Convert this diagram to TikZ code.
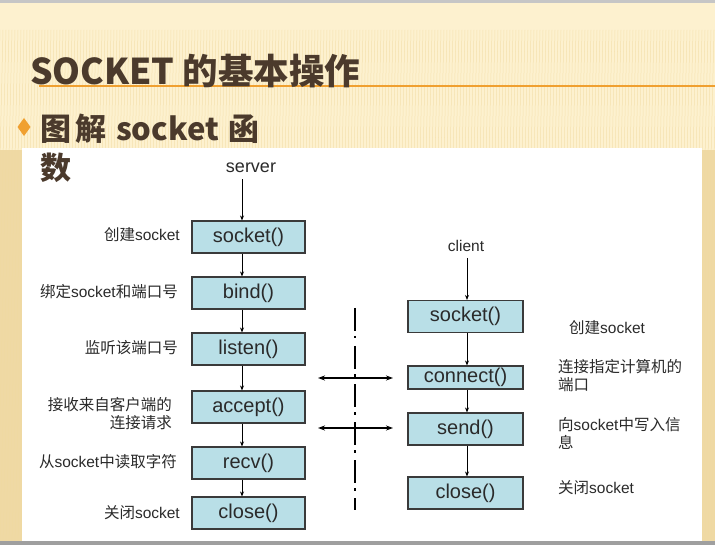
\documentclass[tikz,border=0pt]{standalone}
\usepackage{fontspec}
\setmainfont{Liberation Sans}
\newfontfamily\cjk{Noto Sans CJK SC}
\usetikzlibrary{arrows.meta,calc}
\definecolor{cream}{HTML}{FDF1CF}
\definecolor{stripe}{HTML}{F1DAA0}
\definecolor{gold}{HTML}{EFD9A4}
\definecolor{titlebrown}{HTML}{4B3A2C}
\definecolor{orangeline}{HTML}{F0A030}
\definecolor{boxfill}{HTML}{B9DFE7}
\definecolor{boxline}{HTML}{3A3A3A}
\definecolor{txt}{HTML}{2A2A2A}
\newcommand\zh[1]{{\cjk #1}}
\begin{document}
\begin{tikzpicture}[x=1pt,y=-1pt,
  fn/.style={draw=boxline, line width=1.1pt, fill=boxfill, minimum width=113pt,
    minimum height=32pt, inner sep=0pt, font=\fontsize{20}{24}\selectfont, text=txt},
  arr/.style={-{Stealth[length=5pt,width=4pt]}, line width=0.8pt},
  darr/.style={{Stealth[length=7pt,width=5pt]}-{Stealth[length=7pt,width=5pt]}, line width=1.2pt},
  lbl/.style={font=\fontsize{15.5}{18}\selectfont, text=txt, inner sep=0pt},
  head/.style={font=\fontsize{18}{22}\selectfont, text=txt, inner sep=0pt},
]
\useasboundingbox (0,0) rectangle (715,545);
% slide background
\fill[cream] (0,0) rectangle (715,545);
\fill[gold] (0,150) rectangle (22,545);
\fill[gold] (702,150) rectangle (715,545);
\foreach \i in {0,3,...,740} \draw[stripe, line width=0.5pt, opacity=0.7] (\i,30) -- (\i-12,545);
\draw[gray!45, line width=3pt] (0,1.5) -- (715,1.5);
\fill[gray!75] (0,541) rectangle (715,545);
% title
\draw[orangeline, line width=1.2pt] (39,86) -- (715,86);
\node[anchor=base west, text=titlebrown, font=\cjk\bfseries\fontsize{35.5}{40}\selectfont, inner sep=0pt] (title) at (30,85) {SOCKET 的基本操作};
% white panel
\fill[white] (22,148) rectangle (702,541);
% bullet
\fill[orangeline] (24,118) -- (30.5,127) -- (24,136) -- (17.5,127) -- cycle;
\node[anchor=base west, text=titlebrown, font=\cjk\bfseries\fontsize{31}{39}\selectfont, inner sep=0pt] (sub1) at (40,141) {图\hspace{4pt}解\hspace{10pt}socket\hspace{10pt}函};
\node[anchor=base west, text=titlebrown, font=\cjk\bfseries\fontsize{31}{39}\selectfont, inner sep=0pt] (sub2) at (40,180) {数};
% server column
\node[head] (server) at (251,168) {server};
\node[fn] (s1) at (248.5,237) {socket()};
\node[fn] (s2) at (248.5,293) {bind()};
\node[fn] (s3) at (248.5,349) {listen()};
\node[fn] (s4) at (248.5,407) {accept()};
\node[fn] (s5) at (248.5,463) {recv()};
\node[fn] (s6) at (248.5,513) {close()};
\coordinate (s1in) at ([xshift=-6.5pt]s1.north);
\draw[arr] (server.south -| s1in) ++(0,6) -- (s1in);
\draw[arr] ([xshift=-6.5pt]s1.south) -- ([xshift=-6.5pt]s2.north);
\draw[arr] ([xshift=-6.5pt]s2.south) -- ([xshift=-6.5pt]s3.north);
\draw[arr] ([xshift=-6.5pt]s3.south) -- ([xshift=-6.5pt]s4.north);
\draw[arr] ([xshift=-6.5pt]s4.south) -- ([xshift=-6.5pt]s5.north);
\draw[arr] ([xshift=-6.5pt]s5.south) -- ([xshift=-6.5pt]s6.north);
% server labels
\node[lbl, anchor=east] (l1) at (180,235) {\zh{创建}socket};
\node[lbl, anchor=east] (l2) at (178,292) {\zh{绑定}socket\zh{和端口号}};
\node[lbl, anchor=east] (l3) at (178,348) {\zh{监听该端口号}};
\node[lbl, anchor=east, align=right] (l4) at (172,414) {\zh{接收来自客户端的}\\\zh{连接请求}};
\node[lbl, anchor=east] (l5) at (177,462) {\zh{从}socket\zh{中读取字符}};
\node[lbl, anchor=east] (l6) at (180,513) {\zh{关闭}socket};
% client column
\node[lbl] (client) at (466,246) {client};
\node[fn, minimum width=115pt] (c1) at (465.5,316.5) {socket()};
\node[fn, minimum width=115pt, minimum height=23pt] (c2) at (465.5,377.5) {connect()};
\node[fn, minimum width=115pt] (c3) at (465.5,429) {send()};
\node[fn, minimum width=115pt] (c4) at (465.5,493) {close()};
\coordinate (c1in) at ([xshift=1.5pt]c1.north);
\draw[arr] (client.south -| c1in) ++(0,6) -- (c1in);
\draw[arr] ([xshift=1.5pt]c1.south) -- ([xshift=1.5pt]c2.north);
\draw[arr] ([xshift=1.5pt]c2.south) -- ([xshift=1.5pt]c3.north);
\draw[arr] ([xshift=1.5pt]c3.south) -- ([xshift=1.5pt]c4.north);
% client labels
\node[lbl, anchor=west] (r1) at (569,328) {\zh{创建}socket};
\node[lbl, anchor=west, align=left] (r2) at (558,376) {\zh{连接指定计算机的}\\\zh{端口}};
\node[lbl, anchor=west, align=left] (r3) at (558,433) {\zh{向}socket\zh{中写入信}\\\zh{息}};
\node[lbl, anchor=west] (r4) at (558,488) {\zh{关闭}socket};
% network separator and exchanges
\coordinate (vt) at (355,308);
\coordinate (vb) at (355,510);
\draw[line width=1.6pt, dash pattern=on 23pt off 5pt on 2.5pt off 7.5pt] (vt) -- (vb);
\coordinate (a1l) at (318,378);
\coordinate (a1r) at (393,378);
\coordinate (a2l) at (318,428);
\coordinate (a2r) at (393,428);
\draw[darr] (a1l) -- (a1r);
\draw[darr] (a2l) -- (a2r);
\end{tikzpicture}
\end{document}
